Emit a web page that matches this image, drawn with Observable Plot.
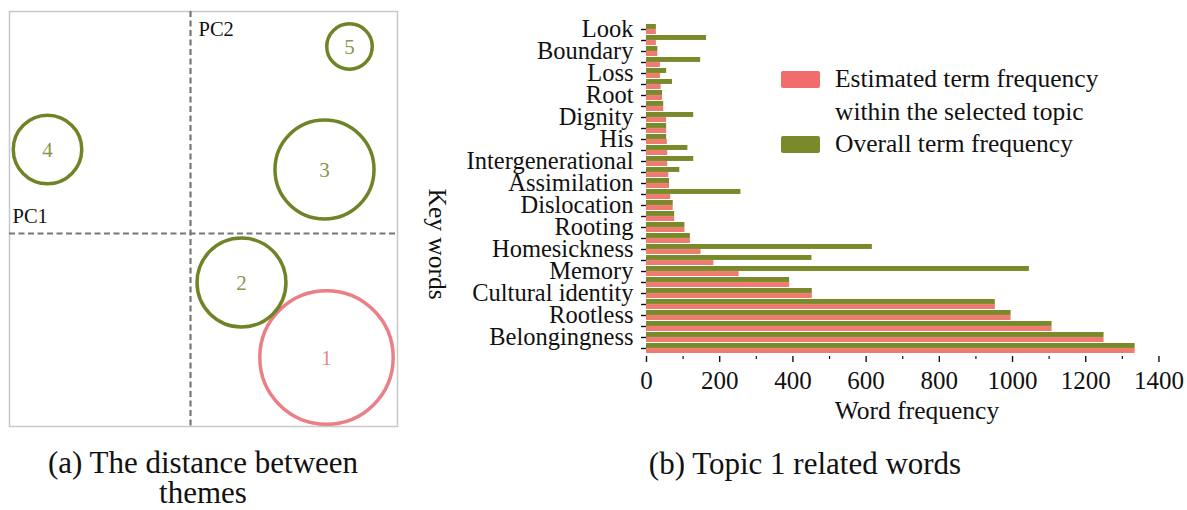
<!DOCTYPE html>
<html>
<head>
<meta charset="utf-8">
<script src="https://cdn.jsdelivr.net/npm/d3@7"></script>
<script src="https://cdn.jsdelivr.net/npm/@observablehq/plot@0.6"></script>
<style>
  html, body { margin: 0; padding: 0; background: #fff; }
  #page { position: relative; width: 1187px; height: 510px; overflow: hidden; background: #fff;
          font-family: "Liberation Serif", "Times New Roman", serif; color: #111; }
  .panel { position: absolute; top: 0; }
  .caption { position: absolute; font-size: 31px; line-height: 30px; text-align: center; white-space: nowrap; }
  .legend { position: absolute; font-size: 25.5px; line-height: 32.5px; white-space: nowrap; }
  .legend .row { position: relative; padding-left: 54px; }
  .legend .sw { position: absolute; left: 0; width: 39px; height: 17px; border-radius: 2px; }
</style>
</head>
<body>
<div id="page">
  <div id="panelA" class="panel" style="left:0"></div>
  <div id="panelB" class="panel" style="left:420px"></div>
  <div class="legend" style="left:781px; top:63px;">
    <div class="row"><span class="sw" style="background:#f36c6c; top:8px;"></span>Estimated term frequency<br>within the selected topic</div>
    <div class="row"><span class="sw" style="background:#7a8a2b; top:8px;"></span>Overall term frequency</div>
  </div>
  <div class="caption" style="left:3px; width:400px; top:448px;">(a) The distance between<br>themes</div>
  <div class="caption" style="left:605px; width:400px; top:449px;">(b) Topic 1 related words</div>
</div>
<script>
// ---- Intertopic distance map (principal components) ----
const topicIds = ["1", "2", "3", "4", "5"];
const topicPC1 = [1.36, 0.51, 1.34, -1.43, 1.59];
const topicPC2 = [-1.24, -0.49, 0.64, 0.84, 1.87];
const topicShare = [42.1, 18.7, 23.2, 11.1, 4.9]; // % of tokens
const selectedTopic = "1";

// ---- Topic 1 key words, ranked (top to bottom) ----
const keyWordLabels = ["Look", "", "Boundary", "", "Loss", "", "Root", "", "Dignity", "",
  "His", "", "Intergenerational", "", "Assimilation", "", "Dislocation", "", "Rooting", "",
  "Homesickness", "", "Memory", "", "Cultural identity", "", "Rootless", "", "Belongingness", ""];
const overallFreq = [27, 164, 31, 148, 55, 71, 44, 47, 129, 55, 55, 113, 129, 91, 63, 258,
  73, 77, 105, 120, 617, 452, 1046, 391, 453, 953, 996, 1108, 1250, 1335];
const topicFreq = [27, 27, 31, 38, 38, 40, 44, 47, 55, 55, 57, 58, 58, 61, 63, 66,
  73, 77, 105, 120, 149, 184, 253, 391, 453, 953, 996, 1108, 1250, 1335];
const xTicks = [0, 200, 400, 600, 800, 1000, 1200, 1400];
const xMinorTicks = [100, 300, 500, 700, 900, 1100, 1300];

const serif = '"Liberation Serif", "Times New Roman", serif';
const olive = "#7a8a2b";
const salmon = "#ef7b70";

// Panel (a)
const topics = topicIds.map((id, i) => ({id, pc1: topicPC1[i], pc2: topicPC2[i], share: topicShare[i]}));
const circleColor = d => d.id === selectedTopic ? "#ea7f86" : "#6f8427";
const numberColor = d => d.id === selectedTopic ? "#e5878b" : "#87964a";

const plotA = Plot.plot({
  width: 400, height: 430,
  marginLeft: 9, marginRight: 3, marginTop: 11, marginBottom: 4,
  x: {domain: [-1.81, 2.07], axis: null},
  y: {domain: [-1.93, 2.22], axis: null},
  r: {type: "sqrt", domain: [0, 42.1], range: [0, 66.7]},
  style: {fontFamily: serif, background: "transparent"},
  marks: [
    Plot.frame({stroke: "#c8c8c8", strokeWidth: 1.5}),
    Plot.ruleX([0], {stroke: "#777", strokeWidth: 2.2, strokeDasharray: "6,3.5"}),
    Plot.ruleY([0], {stroke: "#777", strokeWidth: 2.2, strokeDasharray: "6,3.5"}),
    Plot.dot(topics, {x: "pc1", y: "pc2", r: "share", stroke: circleColor, strokeWidth: 3.5, fill: "none"}),
    Plot.text(topics, {x: "pc1", y: "pc2", text: "id", fill: numberColor, fontSize: 21, dy: 1}),
    Plot.text(["PC2"], {x: 0, y: 2.22, dx: 8, dy: 18, textAnchor: "start", fontSize: 20.5, fill: "#111"}),
    Plot.text(["PC1"], {x: -1.81, y: 0, dx: 3, dy: -17, textAnchor: "start", fontSize: 20.5, fill: "#111"})
  ]
});
document.getElementById("panelA").append(plotA);

// Panel (b)
const words = d3.range(keyWordLabels.length).map(i => ({rank: i, overall: overallFreq[i], topic: topicFreq[i]}));

const plotB = Plot.plot({
  width: 767, height: 430,
  marginLeft: 226, marginRight: 0, marginTop: 20, marginBottom: 74,
  x: {domain: [0, 1478]},
  y: {domain: d3.range(keyWordLabels.length), padding: 0.1},
  style: {fontFamily: serif, fontSize: "24px", color: "#111", background: "transparent"},
  marks: [
    Plot.barX(words, {y: "rank", x: "overall", fill: olive, insetBottom: 5.05}),
    Plot.barX(words, {y: "rank", x: "topic", fill: salmon, insetTop: 5.05}),
    Plot.axisY({tickFormat: i => keyWordLabels[i], tickSize: 5, tickPadding: 8, line: true, strokeWidth: 1.4,
                label: null, fontSize: 24.5}),
    Plot.axisX({anchor: "bottom", ticks: xTicks, tickFormat: d => String(d), tickSize: 6, tickPadding: 9, line: true,
                strokeWidth: 1.4, label: null, fontSize: 25}),
    Plot.axisX({anchor: "bottom", ticks: xMinorTicks, tickFormat: () => "", tickSize: 3, strokeWidth: 1.2, label: null}),
    Plot.axisX({anchor: "top", ticks: [], line: true, strokeWidth: 1.4, label: null}),
    Plot.text(["Word frequency"], {frameAnchor: "bottom", dy: 62, fontSize: 25.5, fill: "#111"}),
    Plot.text(["Key words"], {frameAnchor: "left", dx: -209, dy: 0, rotate: 90, fontSize: 25.5, fill: "#111"})
  ]
});
document.getElementById("panelB").append(plotB);
</script>
</body>
</html>
